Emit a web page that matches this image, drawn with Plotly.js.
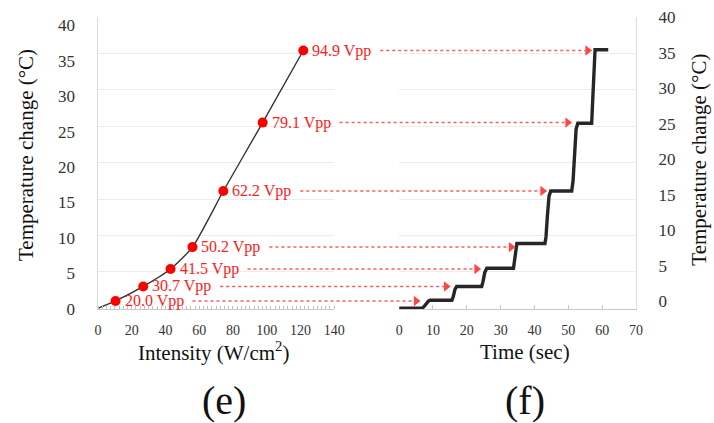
<!DOCTYPE html>
<html><head><meta charset="utf-8">
<script src="https://cdn.plot.ly/plotly-3.0.1.min.js"></script>
<style>html,body{margin:0;padding:0;background:#fff}#chart{width:714px;height:423px}</style>
</head><body><div id="chart"></div>
<script>
// ---- data ----
const intensity = [10.4, 26.8, 43.0, 56.0, 74.3, 97.6, 121.7];          // W/cm^2
const tempRise  = [1.0, 3.0, 5.4, 8.4, 16.1, 25.5, 35.4];               // °C
const vppLabels = ['20.0 Vpp','30.7 Vpp','41.5 Vpp','50.2 Vpp','62.2 Vpp','79.1 Vpp','94.9 Vpp'];
const arrowTipTime = [5.0, 13.9, 22.9, 33.1, 42.4, 49.8, 55.7];         // sec, arrowheads in (f)
const timeSec = [0, 6.7, 7.3, 8.0, 8.7, 9.2, 15.6, 16.0, 16.5, 17.0, 24.4, 24.8, 25.3, 25.9,
                 33.8, 34.0, 34.3, 34.6, 34.8, 43.1, 43.4, 43.8, 44.3, 44.8, 51.0, 51.4, 51.8, 52.3, 52.8,
                 56.9, 57.1, 57.4, 57.7, 57.9, 61.8];
const tempTime = [0, 0, 0.2, 0.7, 1.0, 1.1, 1.1, 1.6, 2.6, 3.0, 3.0, 3.7, 4.9, 5.5,
                  5.5, 6.2, 7.6, 8.6, 8.9, 8.9, 9.8, 12.6, 15.4, 16.1, 16.1, 17.5, 21.0, 24.6, 25.4,
                  25.4, 27.5, 31.5, 34.8, 35.5, 35.5];
const xTicksE = [0, 20, 40, 60, 80, 100, 120, 140];
const xTicksF = [0, 10, 20, 30, 40, 50, 60, 70];
const yTicks  = [0, 5, 10, 15, 20, 25, 30, 35, 40];

// ---- layout geometry ----
const W = 714, H = 423, L = 97.7, R = 78, T = 17.3, B = 113.7;
const plotW = W - L - R, plotH = H - T - B;
const domE = [0, (334 - L) / plotW];
const domF = [(399 - L) / plotW, 1];
const xRangeE = [0, 140], xRangeF = [0, 70], yRange = [-0.1, 40];
const FONT = '"Liberation Serif", "Times New Roman", Times, serif';
const RED = '#ff2020';
const px2x = px => (px - L) / plotW;
const py2y = py => (H - B - py) / plotH;
const dataToPxE = v => L + domE[0]*plotW + (v - xRangeE[0]) / (xRangeE[1]-xRangeE[0]) * (domE[1]-domE[0]) * plotW;
const dataToPxF = v => L + domF[0]*plotW + (v - xRangeF[0]) / (xRangeF[1]-xRangeF[0]) * (domF[1]-domF[0]) * plotW;

const traces = [
  {x: [0].concat(intensity), y: [0].concat(tempRise), xaxis: 'x', yaxis: 'y', mode: 'lines',
   line: {color: '#333', width: 1.4, shape: 'spline', smoothing: 0.6}, hoverinfo: 'skip'},
  {x: intensity, y: tempRise, xaxis: 'x', yaxis: 'y', mode: 'markers',
   marker: {color: '#ff0000', size: 10}, cliponaxis: false},
  {x: timeSec, y: tempTime, xaxis: 'x2', yaxis: 'y', mode: 'lines',
   line: {color: '#262626', width: 3.4}},
  {x: arrowTipTime, y: tempRise, xaxis: 'x2', yaxis: 'y', mode: 'markers',
   marker: {symbol: 'triangle-right', size: 9, color: '#ff4545'}, cliponaxis: false},
  // carriers for the label-only axes
  {x: [0], y: [0], xaxis: 'x', yaxis: 'y3', mode: 'markers', marker: {opacity: 0}, hoverinfo: 'skip'},
  {x: [0], y: [0], xaxis: 'x2', yaxis: 'y2', mode: 'markers', marker: {opacity: 0}, hoverinfo: 'skip'}
];

const shapes = [], annotations = [];
intensity.forEach((v, i) => {
  const startPx = dataToPxE(v) + 77;
  const tipPx = dataToPxF(arrowTipTime[i]);
  shapes.push({type: 'line', xref: 'paper', yref: 'y', x0: px2x(startPx), x1: px2x(tipPx - 2),
               y0: tempRise[i], y1: tempRise[i], line: {color: '#ff5a5a', width: 1.5, dash: 'dot'}});
  annotations.push({x: v, y: tempRise[i], xref: 'x', yref: 'y', text: vppLabels[i], showarrow: false,
                    xanchor: 'left', yanchor: 'middle', xshift: 7, font: {family: FONT, size: 16, color: RED}});
});
const titleFont = {family: FONT, size: 21, color: '#111'};
const ann = (px, py, text, font, angle) => ({xref: 'paper', yref: 'paper', x: px2x(px), y: py2y(py), text: text,
  textangle: angle || 0, showarrow: false, xanchor: 'center', yanchor: 'middle', font: font});
annotations.push(
  ann(25, 155, 'Temperature change (°C)', titleFont, -90),
  ann(699, 160, 'Temperature change (°C)', titleFont, -90),
  ann(213, 352, 'Intensity (W/cm<sup>2</sup>)', titleFont),
  ann(525, 352, 'Time (sec)', titleFont),
  ann(224, 401, '(e)', {family: FONT, size: 40, color: '#111'}),
  ann(525, 401, '(f)', {family: FONT, size: 40, color: '#111'})
);

const tickFontX = {family: FONT, size: 14, color: '#333'};
const tickFontY = {family: FONT, size: 17, color: '#333'};
const layout = {
  width: W, height: H, margin: {l: L, r: R, t: T, b: B},
  paper_bgcolor: '#fff', plot_bgcolor: 'rgba(0,0,0,0)', showlegend: false,
  xaxis: {domain: domE, range: xRangeE, tickvals: xTicksE, showgrid: false, zeroline: false,
          showline: true, linecolor: '#c8c8c8', linewidth: 1, ticks: '', tickfont: tickFontX, ticklabelstandoff: 8,
          minor: {ticks: 'inside', ticklen: 3, tickcolor: '#c0c0c0', dtick: 2.5}, anchor: 'y'},
  xaxis2: {domain: domF, range: xRangeF, tickvals: xTicksF, showgrid: false, zeroline: false,
           showline: true, linecolor: '#c8c8c8', linewidth: 1, ticks: 'inside', ticklen: 4, tickcolor: '#c8c8c8',
           tickfont: tickFontX, ticklabelstandoff: 8, anchor: 'y'},
  yaxis: {domain: [0, 1], range: yRange, tickvals: yTicks, showticklabels: false, showgrid: true,
          gridcolor: '#ececec', gridwidth: 1, zeroline: false, showline: true, linecolor: '#dcdcdc', ticks: '', anchor: 'x'},
  yaxis3: {overlaying: 'y', anchor: 'x', side: 'left', range: [-0.05, 41.18], tickvals: yTicks,
           showgrid: false, zeroline: false, showline: false, ticks: '', tickfont: tickFontY, ticklabelstandoff: 22},
  yaxis2: {overlaying: 'y', anchor: 'x2', side: 'right', range: [-1.07, 40.02], tickvals: yTicks,
           showgrid: false, zeroline: false, showline: true, linecolor: '#dcdcdc', ticks: '', tickfont: tickFontY, ticklabelstandoff: 18},
  shapes: shapes, annotations: annotations
};
Plotly.newPlot('chart', traces, layout, {staticPlot: true, displayModeBar: false});
</script></body></html>
